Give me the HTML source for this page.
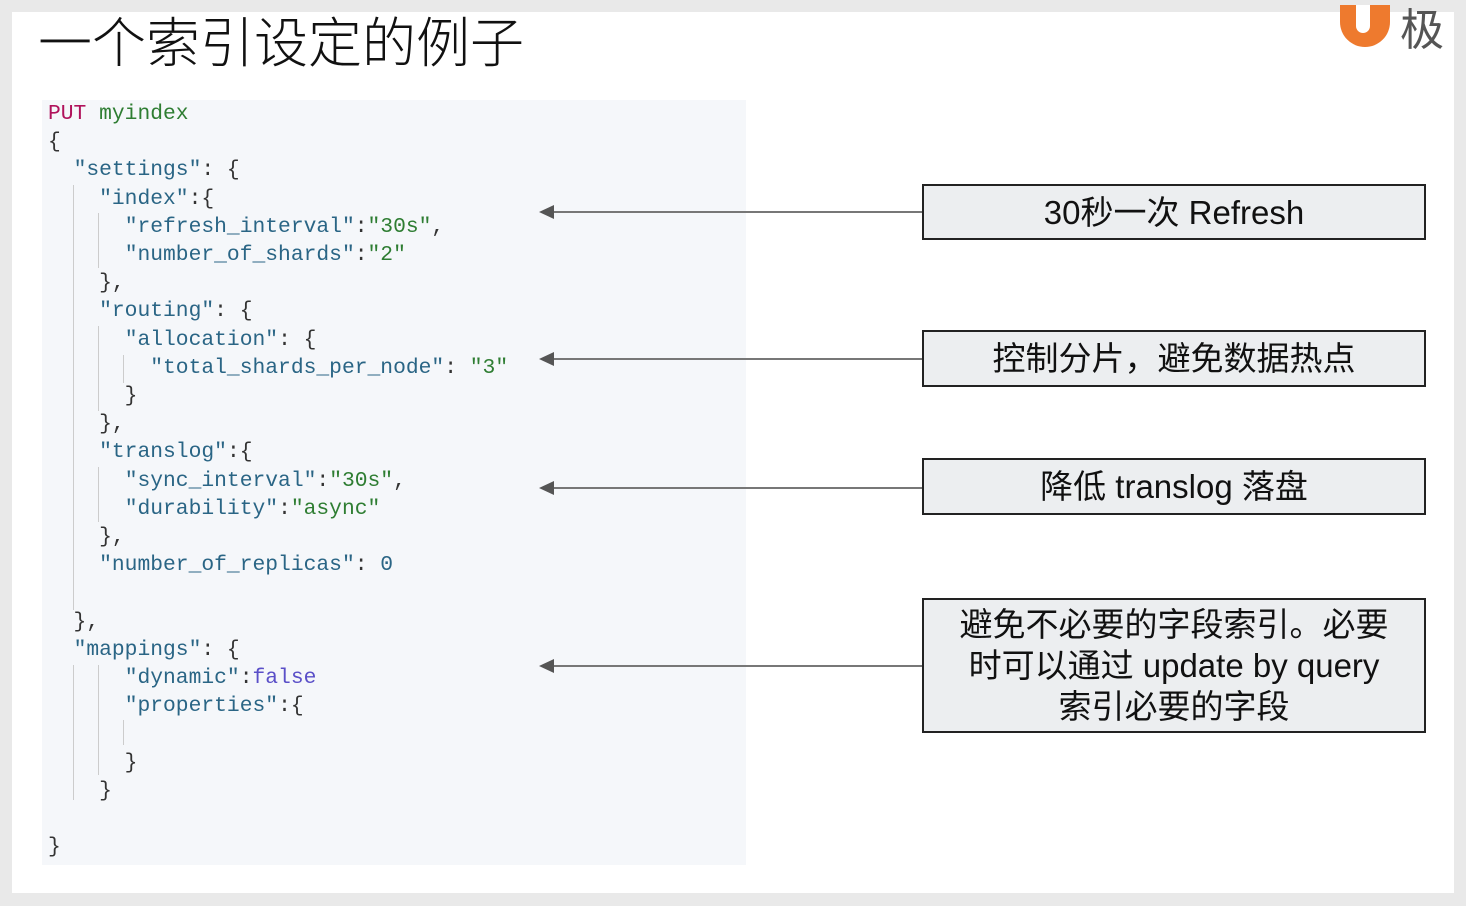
<!DOCTYPE html>
<html><head><meta charset="utf-8"><style>
body{margin:0;width:1466px;height:906px;background:#e9e9e9;position:relative;overflow:hidden;font-family:"Liberation Sans","Noto Sans CJK SC",sans-serif}
.slide{position:absolute;left:12px;top:12px;width:1442px;height:881px;background:#fff}
.title{position:absolute;left:38px;top:12px;font-size:54px;color:#111;line-height:64px;font-family:"Liberation Sans","Noto Sans CJK SC",sans-serif;font-weight:300}
.panel{position:absolute;left:42px;top:100px;width:704px;height:765px;background:#f5f7fa}
.code{position:absolute;font-family:"Liberation Mono",monospace;font-size:21.3px;line-height:28.2px;white-space:pre;color:#333}
.k{color:#2a6585}.s{color:#2e7d32}.p{color:#b0125b}.f{color:#5a4fc8}
.g{position:absolute;width:1px;background:#ccc}
.box{position:absolute;left:922px;width:500px;background:#eceef0;border:2px solid #222;text-align:center;color:#111;font-size:33px;display:flex;align-items:center;justify-content:center;line-height:41px}
.ln{position:absolute;left:552px;width:370px;height:2px;background:#777}
.ah{position:absolute;left:539px;width:0;height:0;border-top:7px solid transparent;border-bottom:7px solid transparent;border-right:15px solid #555}
</style></head><body>
<div class="slide"></div>
<div class="title">一个索引设定的例子</div>
<div style="position:absolute;left:1340px;top:5px;width:50px;height:42px;background:#ee7a2e;border-radius:0 0 25px 25px"></div>
<div style="position:absolute;left:1356px;top:5px;width:14px;height:28px;background:#fff;border-radius:0 0 8px 8px"></div>
<div style="position:absolute;left:1400px;top:-6px;font-size:44px;color:#555;font-family:'Noto Sans CJK SC',sans-serif">极</div>
<div class="panel"></div>
<div class="g" style="left:73px;top:185px;height:425px"></div>
<div class="g" style="left:98px;top:213px;height:55px"></div>
<div class="g" style="left:98px;top:326px;height:85px"></div>
<div class="g" style="left:123px;top:355px;height:28px"></div>
<div class="g" style="left:98px;top:467px;height:55px"></div>
<div class="g" style="left:73px;top:665px;height:135px"></div>
<div class="g" style="left:98px;top:665px;height:110px"></div>
<div class="g" style="left:123px;top:720px;height:25px"></div>
<div class="code" style="left:48px;top:100px"><span class="p">PUT</span> <span class="s">myindex</span>
{
  <span class="k">"settings"</span>: {
    <span class="k">"index"</span>:{
      <span class="k">"refresh_interval"</span>:<span class="s">"30s"</span>,
      <span class="k">"number_of_shards"</span>:<span class="s">"2"</span>
    },
    <span class="k">"routing"</span>: {
      <span class="k">"allocation"</span>: {
        <span class="k">"total_shards_per_node"</span>: <span class="s">"3"</span>
      }
    },
    <span class="k">"translog"</span>:{
      <span class="k">"sync_interval"</span>:<span class="s">"30s"</span>,
      <span class="k">"durability"</span>:<span class="s">"async"</span>
    },
    <span class="k">"number_of_replicas"</span>: <span class="k">0</span>

  },
  <span class="k">"mappings"</span>: {
      <span class="k">"dynamic"</span>:<span class="f">false</span>
      <span class="k">"properties"</span>:{

      }
    }

}</div>
<div class="ln" style="top:211px"></div><div class="ah" style="top:205px"></div>
<div class="ln" style="top:358px"></div><div class="ah" style="top:352px"></div>
<div class="ln" style="top:487px"></div><div class="ah" style="top:481px"></div>
<div class="ln" style="top:665px"></div><div class="ah" style="top:659px"></div>
<div class="box" style="top:184px;height:52px">30秒一次 Refresh</div>
<div class="box" style="top:330px;height:53px">控制分片，避免数据热点</div>
<div class="box" style="top:458px;height:53px">降低 translog 落盘</div>
<div class="box" style="top:598px;height:131px">避免不必要的字段索引。必要<br>时可以通过 update by query<br>索引必要的字段</div>
</body></html>
